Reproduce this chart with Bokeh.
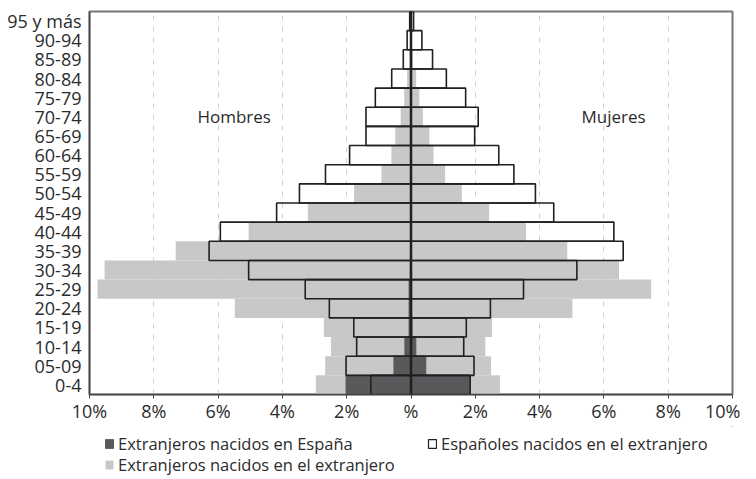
from bokeh.plotting import figure
from bokeh.layouts import column
from bokeh.models import (ColumnDataSource, FactorRange, FixedTicker, Span, Legend,
                          LegendItem, Range1d, CustomJSTickFormatter)
from bokeh.core.properties import value
from bokeh.embed import file_html
from bokeh.resources import INLINE

# Age groups, bottom to top
ages = ["0-4", "05-09", "10-14", "15-19", "20-24", "25-29", "30-34", "35-39",
        "40-44", "45-49", "50-54", "55-59", "60-64", "65-69", "70-74", "75-79",
        "80-84", "85-89", "90-94", "95 y más"]

# Extranjeros nacidos en el extranjero (%)
men_foreign_abroad = [2.96, 2.67, 2.49, 2.71, 5.48, 9.75, 9.53, 7.32, 5.05, 3.21,
                      1.77, 0.92, 0.61, 0.49, 0.32, 0.21, 0.12, 0.05, 0.03, 0.01]
women_foreign_abroad = [2.77, 2.49, 2.31, 2.52, 5.02, 7.47, 6.47, 4.86, 3.58, 2.43,
                        1.58, 1.06, 0.70, 0.57, 0.37, 0.26, 0.16, 0.06, 0.03, 0.01]

# Extranjeros nacidos en España (%)
men_foreign_spain = [2.02, 0.53, 0.19, 0.06, 0.06, 0.06, 0.02, 0.0, 0.0, 0.0,
                     0.0, 0.0, 0.0, 0.0, 0.0, 0.0, 0.0, 0.0, 0.0, 0.0]
women_foreign_spain = [1.84, 0.46, 0.15, 0.03, 0.02, 0.02, 0.0, 0.0, 0.0, 0.0,
                       0.0, 0.0, 0.0, 0.0, 0.0, 0.0, 0.0, 0.0, 0.0, 0.0]

# Españoles nacidos en el extranjero (%)
men_spanish_abroad = [1.25, 2.02, 1.69, 1.78, 2.54, 3.29, 5.05, 6.28, 5.93, 4.18,
                      3.47, 2.66, 1.91, 1.40, 1.40, 1.11, 0.60, 0.24, 0.12, 0.04]
women_spanish_abroad = [1.84, 1.96, 1.64, 1.72, 2.47, 3.50, 5.16, 6.60, 6.31, 4.44,
                        3.87, 3.20, 2.73, 1.98, 2.09, 1.70, 1.10, 0.67, 0.34, 0.08]

x_ticks = [-10, -8, -6, -4, -2, 0, 2, 4, 6, 8, 10]
x_tick_labels = ["10%", "8%", "6%", "4%", "2%", "%", "2%", "4%", "6%", "8%", "10%"]

label_names = ["Hombres", "Mujeres"]
label_x = [-5.5, 6.3]
label_y = ["70-74", "70-74"]

legend_labels = ["Extranjeros nacidos en España",
                 "Españoles nacidos en el extranjero",
                 "Extranjeros nacidos en el extranjero"]

FONT = "Open Sans"
FS = "18px"
TXT = "#2b2b2b"
GRAY = "#c7c8ca"
DARK = "#58595b"
EDGE = "#231f20"


def pyramid_source(men, women):
    return ColumnDataSource(dict(
        y=ages + ages,
        left=[-v for v in men] + [0.0] * len(women),
        right=[0.0] * len(men) + list(women),
    ))


p = figure(width=740, height=426, y_range=FactorRange(*ages), x_range=Range1d(-10, 10),
           output_backend="svg", toolbar_location=None,
           min_border_left=89, min_border_right=8, min_border_top=11, min_border_bottom=32)

src_gray = pyramid_source(men_foreign_abroad, women_foreign_abroad)
src_dark = pyramid_source(men_foreign_spain, women_foreign_spain)
src_out = pyramid_source(men_spanish_abroad, women_spanish_abroad)

gray_style = dict(fill_color=GRAY, line_color=None)
dark_style = dict(fill_color=DARK, line_color=DARK, line_width=1)
out_style = dict(fill_color="white", fill_alpha=0.0, line_color=EDGE, line_width=1.6)

p.hbar(y="y", left="left", right="right", height=1.0, source=src_gray, **gray_style)
p.hbar(y="y", left="left", right="right", height=1.0, source=src_dark, **dark_style)
p.hbar(y="y", left="left", right="right", height=1.0, source=src_out, **out_style)

p.add_layout(Span(location=0, dimension="height", line_color=EDGE, line_width=2.5))

p.text(x=label_x, y=label_y, text=label_names, text_font=value(FONT),
       text_font_size="17px", text_color=TXT, text_align="center", text_baseline="middle")

# axes
p.xaxis.ticker = FixedTicker(ticks=x_ticks)
p.xaxis.formatter = CustomJSTickFormatter(
    args=dict(tick_vals=x_ticks, tick_texts=x_tick_labels),
    code="""
        for (let i = 0; i < tick_vals.length; i++) {
            if (Math.abs(tick_vals[i] - tick) < 1e-9) { return tick_texts[i]; }
        }
        return '';
    """)
p.xaxis.minor_tick_line_color = None
p.xaxis.major_tick_out = 4
p.xaxis.major_tick_in = 0
p.xaxis.major_tick_line_color = "#444444"
p.xaxis.axis_line_color = "#444444"
p.xaxis.axis_line_width = 1.5
p.xaxis.major_label_text_font = FONT
p.xaxis.major_label_text_font_size = FS
p.xaxis.major_label_text_color = TXT
p.xaxis.major_label_standoff = 0

p.yaxis.major_tick_line_color = None
p.yaxis.major_tick_out = 0
p.yaxis.major_tick_in = 0
p.yaxis.minor_tick_line_color = None
p.yaxis.axis_line_color = "#444444"
p.yaxis.axis_line_width = 1.5
p.yaxis.major_label_text_font = FONT
p.yaxis.major_label_text_font_size = FS
p.yaxis.major_label_text_color = TXT
p.yaxis.major_label_standoff = 8

p.ygrid.grid_line_color = None
p.xgrid.ticker = FixedTicker(ticks=[t for t in x_ticks if t not in (0, -10, 10)])
p.xgrid.grid_line_color = "#cfcfcf"
p.xgrid.grid_line_dash = "5 6"
p.xgrid.grid_line_width = 1

p.outline_line_color = "#777777"
p.outline_line_width = 2

# legend strip below the chart (its frame is aligned with the chart's frame)
lf = figure(width=740, height=50, x_range=Range1d(0, 1), y_range=Range1d(0, 1),
            output_backend="svg", toolbar_location=None, min_border=0)
lf.axis.visible = False
lf.grid.visible = False
lf.outline_line_color = None


def offscreen():
    # one bar placed outside the visible range, only so that the legend draws its swatch
    return ColumnDataSource(dict(y=[5.0], left=[5.0], right=[6.0]))


l_dark = lf.hbar(y="y", left="left", right="right", height=1.0, source=offscreen(), **dark_style)
l_out = lf.hbar(y="y", left="left", right="right", height=1.0, source=offscreen(),
                fill_color="white", line_color=EDGE, line_width=1.2)
l_gray = lf.hbar(y="y", left="left", right="right", height=1.0, source=offscreen(), **gray_style)

legend_specs = [(legend_labels[0], l_dark, (15, 21)),
                (legend_labels[1], l_out, (338, 21)),
                (legend_labels[2], l_gray, (15, 0))]
for lab, rend, loc in legend_specs:
    lg = Legend(items=[LegendItem(label=lab, renderers=[rend])], location=loc)
    lg.label_text_font = FONT
    lg.label_text_font_size = "16.5px"
    lg.label_text_color = TXT
    lg.glyph_width = 10
    lg.glyph_height = 11
    lg.label_standoff = 4
    lg.label_height = 18
    lg.padding = 0
    lg.margin = 0
    lg.border_line_color = None
    lg.background_fill_alpha = 0
    lf.add_layout(lg)

layout = column(p, lf, spacing=0)
open("out.html", "w").write(file_html(layout, INLINE))
